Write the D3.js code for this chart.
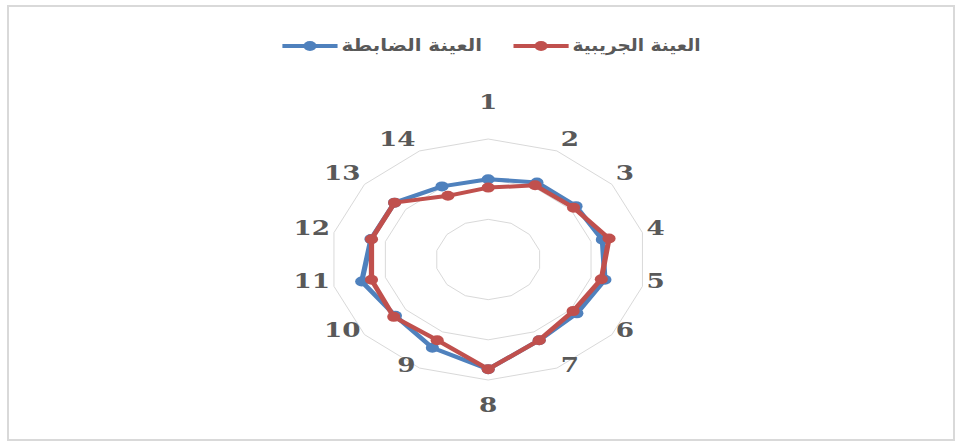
<!DOCTYPE html>
<html>
<head>
<meta charset="utf-8">
<script src="https://cdn.jsdelivr.net/npm/d3@7"></script>
<style>
  html, body { margin: 0; padding: 0; background: #ffffff; }
  svg { display: block; }
</style>
</head>
<body>
<svg id="chart" width="961" height="445"></svg>
<script>
// Radar axes (questionnaire items)
const categories = ["1", "2", "3", "4", "5", "6", "7", "8", "9", "10", "11", "12", "13", "14"];
// Series names
const seriesNames = ["العينة الضابطة", "العينة الجريبية"];
// Mean scores per item
const controlValues = [2.00, 2.13, 2.13, 2.22, 2.27, 2.15, 2.23, 2.73, 2.44, 2.25, 2.46, 2.28, 2.27, 2.02];
const experimentalValues = [1.79, 2.05, 2.07, 2.35, 2.20, 2.06, 2.23, 2.73, 2.23, 2.29, 2.27, 2.27, 2.27, 1.76];
// Gridline rings
const gridTicks = [1, 2, 3];

const seriesColors = ["#4F81BD", "#C0504D"];
const legendTextWidths = [107, 97.5];
const series = [
  { name: seriesNames[0], values: controlValues, color: seriesColors[0], textW: legendTextWidths[0] },
  { name: seriesNames[1], values: experimentalValues, color: seriesColors[1], textW: legendTextWidths[1] }
];

const svg = d3.select("#chart");
const stretchX = 1.313;          // plot area is wider than tall
const cx = 488.2, cy = 259.5, R = 120.5;

// outer frame
svg.append("rect")
  .attr("x", 8).attr("y", 6)
  .attr("width", 946).attr("height", 434)
  .attr("fill", "none")
  .attr("stroke", "#d9d9d9")
  .attr("stroke-width", 2);

const rScale = d3.scaleLinear().domain([0, 3]).range([0, R]);
const aScale = d3.scaleLinear().domain([0, categories.length]).range([0, 2 * Math.PI]);

const plot = svg.append("g")
  .attr("transform", `translate(${cx},${cy}) scale(${stretchX},1)`);

// gridline polygons
const ringLine = d3.lineRadial()
  .angle((d, i) => aScale(i))
  .radius(d => rScale(d))
  .curve(d3.curveLinearClosed);

plot.append("g").selectAll("path")
  .data(gridTicks)
  .join("path")
  .attr("d", t => ringLine(categories.map(() => t)))
  .attr("fill", "none")
  .attr("stroke", "#d9d9d9")
  .attr("stroke-width", 1)
  .attr("vector-effect", "non-scaling-stroke");

// category labels around the outer ring
const labelG = plot.append("g")
  .attr("font-family", "'DejaVu Serif', 'Liberation Serif', serif")
  .attr("font-weight", "bold")
  .attr("font-size", 20)
  .attr("fill", "#595959");

categories.forEach((c, i) => {
  const a = aScale(i);
  const s = Math.sin(a), co = Math.cos(a);
  const vx = rScale(3) * s, vy = -rScale(3) * co;
  const t = labelG.append("text").text(c).attr("dominant-baseline", "central");
  let x, y, anchor;
  if (Math.abs(s) < 0.1) {
    x = vx; anchor = "middle";
    y = vy + (co > 0 ? -37 : 25);
  } else {
    anchor = s > 0 ? "start" : "end";
    x = vx + (s > 0 ? 3 : -3);
    y = vy - 5 + (co > 0.5 ? -6.5 : (co < -0.8 ? 2.5 : (co < -0.5 ? 1 : 0)));
  }
  t.attr("x", x).attr("y", y).attr("text-anchor", anchor);
});

// series lines and markers
const dataLine = d3.lineRadial()
  .angle((d, i) => aScale(i))
  .radius(d => rScale(d))
  .curve(d3.curveLinearClosed);

series.forEach(sr => {
  const g = plot.append("g");
  g.append("path")
    .attr("d", dataLine(sr.values))
    .attr("fill", "none")
    .attr("stroke", sr.color)
    .attr("stroke-width", 4)
    .attr("stroke-linejoin", "round");
  g.selectAll("circle")
    .data(sr.values)
    .join("circle")
    .attr("cx", (d, i) => rScale(d) * Math.sin(aScale(i)))
    .attr("cy", (d, i) => -rScale(d) * Math.cos(aScale(i)))
    .attr("r", 5)
    .attr("fill", sr.color);
});

// legend
const legend = svg.append("g")
  .attr("transform", `scale(${stretchX},1)`);
const legendY = 46;
const lineLen = 42, gapLineText = 3, gapItems = 24;
const items = series.map(sr => {
  const g = legend.append("g");
  g.append("line")
    .attr("x1", 0).attr("x2", lineLen)
    .attr("y1", legendY).attr("y2", legendY)
    .attr("stroke", sr.color).attr("stroke-width", 4);
  g.append("circle")
    .attr("cx", lineLen / 2).attr("cy", legendY).attr("r", 5)
    .attr("fill", sr.color);
  g.append("text")
    .attr("x", lineLen + gapLineText)
    .attr("y", legendY - 1)
    .attr("dominant-baseline", "central")
    .attr("text-anchor", "start")
    .attr("font-family", "'DejaVu Sans', sans-serif")
    .attr("font-weight", "bold")
    .attr("font-size", 17)
    .attr("fill", "#595959")
    .attr("textLength", sr.textW)
    .attr("lengthAdjust", "spacingAndGlyphs")
    .text(sr.name);
  return { g, w: lineLen + gapLineText + sr.textW };
});
const totalW = d3.sum(items, d => d.w) + gapItems * (items.length - 1);
let lx = 491.5 / stretchX - totalW / 2;
items.forEach(it => {
  it.g.attr("transform", `translate(${lx},0)`);
  lx += it.w + gapItems;
});
</script>
</body>
</html>
